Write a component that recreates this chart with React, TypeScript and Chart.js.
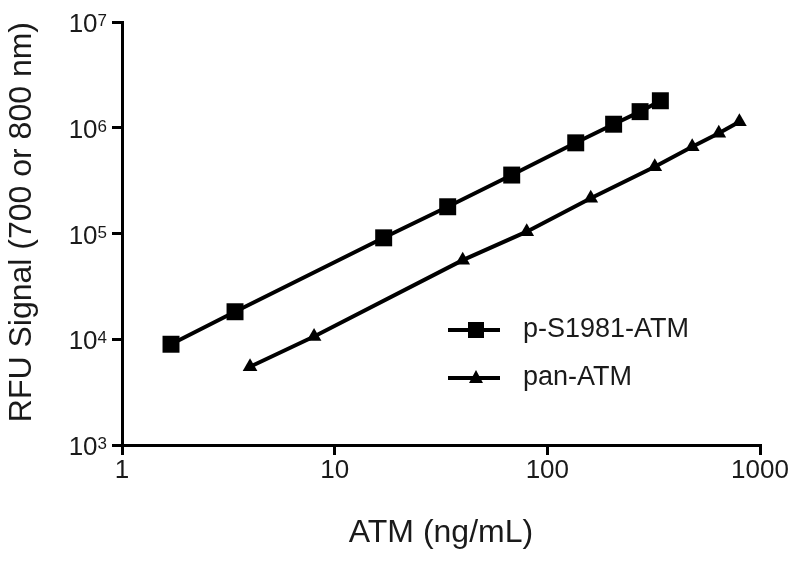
import React, { useEffect, useRef } from "react";
import { Chart, registerables } from "chart.js";

Chart.register(...registerables);

const seriesNames = ["p-S1981-ATM", "pan-ATM"];
const pS1981X = [1.7, 3.4, 17, 34, 68, 136, 205, 273, 340];
const pS1981Y = [8970, 18200, 91000, 179000, 357000, 720000, 1080000, 1420000, 1800000];
const panX = [4, 8, 40, 80, 160, 320, 480, 640, 800];
const panY = [5500, 10600, 56000, 104000, 215000, 428000, 660000, 887000, 1140000];
const xTicks = [1, 10, 100, 1000];
const yTicks = [1e3, 1e4, 1e5, 1e6, 1e7];
const xTitle = "ATM (ng/mL)";
const yTitle = "RFU Signal (700 or 800 nm)";

const FONT = "'Liberation Sans', Arial, sans-serif";
const INK = "#1a1a1a";

// Draws y tick labels as 10 with a superscript exponent, at the scale's own tick positions
const powerLabelPlugin = {
  id: "powerLabels",
  afterDraw(chart: any) {
    const ctx = chart.ctx;
    const s = chart.scales.y;
    const right = s.right - 15;
    ctx.save();
    ctx.fillStyle = INK;
    s.ticks.forEach((t: any) => {
      const y = s.getPixelForValue(t.value);
      const exp = String(Math.round(Math.log10(t.value)));
      ctx.font = `17px ${FONT}`;
      ctx.textAlign = "right";
      ctx.textBaseline = "top";
      const ew = ctx.measureText(exp).width;
      ctx.fillText(exp, right, y - 9);
      ctx.font = `26px ${FONT}`;
      ctx.textBaseline = "middle";
      ctx.fillText("10", right - ew, y + 3);
    });
    ctx.restore();
  },
};

const legendPlugin = {
  id: "insideLegend",
  afterDatasetsDraw(chart: any) {
    const ctx = chart.ctx;
    const ca = chart.chartArea;
    const x0 = ca.left + 326;
    const rows = [330, 378];
    chart.data.datasets.forEach((ds: any, i: number) => {
      const y = rows[i];
      ctx.save();
      ctx.strokeStyle = ds.borderColor;
      ctx.lineWidth = ds.borderWidth;
      ctx.beginPath();
      ctx.moveTo(x0, y);
      ctx.lineTo(x0 + 52, y);
      ctx.stroke();
      ctx.fillStyle = ds.pointBackgroundColor;
      const cx = x0 + 28;
      if (ds.pointStyle === "rect") {
        ctx.fillRect(cx - 8, y - 8, 16, 16);
      } else {
        ctx.beginPath();
        ctx.moveTo(cx, y - 8);
        ctx.lineTo(cx + 7, y + 5);
        ctx.lineTo(cx - 7, y + 5);
        ctx.closePath();
        ctx.fill();
      }
      ctx.fillStyle = INK;
      ctx.font = `27px ${FONT}`;
      ctx.textBaseline = "middle";
      ctx.textAlign = "left";
      ctx.fillText(ds.label, x0 + 75, y);
      ctx.restore();
    });
  },
};

export default function App() {
  const ref = useRef<HTMLCanvasElement | null>(null);
  useEffect(() => {
    document.body.style.margin = "0";
    const canvas = ref.current!;
    const chart = new Chart(canvas, {
      type: "line",
      data: {
        datasets: [
          {
            label: seriesNames[0],
            data: pS1981X.map((x, i) => ({ x, y: pS1981Y[i] })),
            borderColor: "#000",
            backgroundColor: "#000",
            pointBackgroundColor: "#000",
            pointBorderColor: "#000",
            borderWidth: 4,
            pointStyle: "rect",
            pointRadius: 12,
            pointBorderWidth: 0,
          },
          {
            label: seriesNames[1],
            data: panX.map((x, i) => ({ x, y: panY[i] })),
            borderColor: "#000",
            backgroundColor: "#000",
            pointBackgroundColor: "#000",
            pointBorderColor: "#000",
            borderWidth: 4,
            pointStyle: "triangle",
            pointRadius: 8.5,
            pointBorderWidth: 0,
          },
        ],
      },
      options: {
        responsive: false,
        animation: false,
        devicePixelRatio: 1,
        layout: { padding: { top: 22, right: 40, left: 0, bottom: 0 } },
        plugins: { legend: { display: false }, tooltip: { enabled: false } },
        scales: {
          x: {
            type: "logarithmic",
            min: 1,
            max: 1000,
            afterBuildTicks: (s: any) => {
              s.ticks = xTicks.map((v) => ({ value: v }));
            },
            afterFit: (s: any) => {
              s.height = 562 - 445;
            },
            ticks: {
              autoSkip: false,
              maxRotation: 0,
              color: INK,
              padding: 0,
              font: { size: 26, family: FONT },
              callback: (v: any) => String(v),
            },
            grid: { drawOnChartArea: false, drawTicks: true, tickLength: 10, color: "#000", lineWidth: 3 },
            border: { display: true, color: "#000", width: 3 },
            title: { display: true, text: xTitle, color: INK, font: { size: 32, family: FONT }, padding: { top: 0, bottom: 10 } },
          },
          y: {
            type: "logarithmic",
            min: 1e3,
            max: 1e7,
            afterBuildTicks: (s: any) => {
              s.ticks = yTicks.map((v) => ({ value: v }));
            },
            afterFit: (s: any) => {
              s.width = 122;
            },
            ticks: { display: false },
            grid: { drawOnChartArea: false, drawTicks: true, tickLength: 10, color: "#000", lineWidth: 3 },
            border: { display: true, color: "#000", width: 3 },
            title: { display: true, text: yTitle, align: "end", color: INK, font: { size: 32, family: FONT }, padding: { top: 3, bottom: 0 } },
          },
        },
      },
      plugins: [legendPlugin, powerLabelPlugin],
    } as any);
    return () => chart.destroy();
  }, []);
  return (
    <div style={{ position: "absolute", left: 0, top: 0, width: 800, height: 562, background: "#fff" }}>
      <canvas ref={ref} width={800} height={562} />
    </div>
  );
}
